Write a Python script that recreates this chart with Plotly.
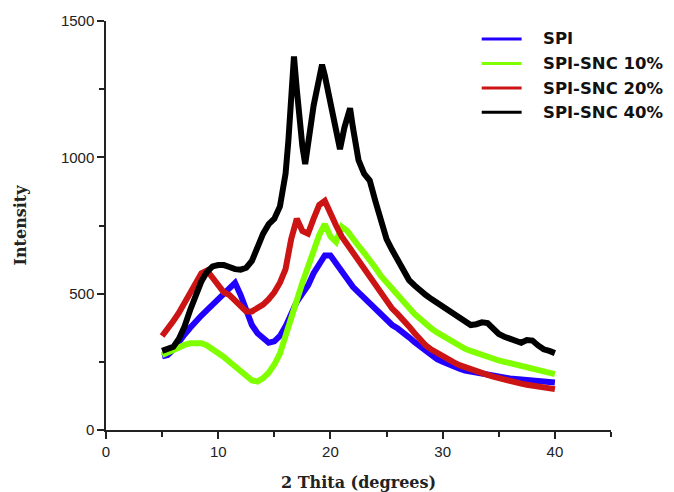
import plotly.graph_objects as go

# 2-theta grid (degrees) for SPI, SPI-SNC 10%, SPI-SNC 20%
two_theta = [5.0 + 0.5 * i for i in range(71)]

spi = [270, 275, 295, 325, 350, 375, 400, 420, 440, 460,
       478, 500, 522, 540, 495, 435, 385, 355, 335, 320,
       325, 345, 380, 430, 470, 500, 530, 575, 610, 640,
       640, 612, 580, 550, 525, 505, 485, 465, 440, 420,
       400, 385, 372, 358, 340, 322, 305, 288, 273, 260,
       250, 240, 232, 225, 218, 214, 208, 204, 200, 196,
       193, 191, 189, 187, 185, 183, 181, 179, 177, 175,
       174]

snc10 = [275, 285, 295, 305, 312, 318, 320, 318, 310, 298,
         283, 268, 250, 232, 212, 195, 182, 178, 190, 210,
         240, 280, 340, 405, 475, 540, 600, 660, 715, 755,
         710, 690, 745, 730, 700, 675, 650, 625, 595, 565,
         540, 515, 492, 470, 448, 425, 405, 388, 372, 358,
         345, 333, 320, 308, 298, 290, 282, 274, 267, 260,
         255, 250, 245, 240, 236, 232, 227, 222, 216, 210,
         205]

snc20 = [345, 370, 400, 430, 465, 500, 540, 575, 585, 560,
         530, 505, 495, 475, 450, 435, 435, 445, 460, 480,
         505, 540, 590, 700, 775, 730, 720, 775, 825, 840,
         790, 750, 710, 680, 650, 625, 595, 560, 530, 500,
         470, 445, 425, 405, 380, 355, 330, 310, 295, 282,
         270, 258, 248, 238, 230, 222, 215, 208, 202, 196,
         190, 185, 180, 175, 170, 166, 163, 160, 157, 154,
         150]

two_theta_40 = [5.0, 5.5, 6.0, 6.5, 7.0, 7.5, 8.0, 8.5, 9.0, 9.5,
                10.0, 10.5, 11.0, 11.5, 12.0, 12.5, 13.0, 13.5, 14.0, 14.5,
                15.0, 15.5, 16.0, 16.25, 16.5, 16.75, 17.0, 17.25, 17.5, 17.75,
                18.0, 18.5, 19.0, 19.25, 19.5, 20.0, 20.5, 20.85, 21.25, 21.75,
                22.0, 22.5, 23.0, 23.5, 24.0, 24.5, 25.0, 25.5, 26.0, 26.5,
                27.0, 27.5, 28.0, 28.5, 29.0, 29.5, 30.0, 30.5, 31.0, 31.5,
                32.0, 32.5, 33.0, 33.5, 34.0, 34.5, 35.0, 35.5, 36.0, 36.5,
                37.0, 37.5, 38.0, 38.5, 39.0, 39.5, 40.0]

snc40 = [290, 295, 305, 335, 380, 440, 495, 545, 580, 600,
         605, 605, 598, 590, 588, 595, 620, 670, 720, 755,
         775, 820, 940, 1060, 1220, 1370, 1250, 1120, 1040, 975,
         1060, 1190, 1290, 1340, 1300, 1200, 1100, 1030, 1110, 1180,
         1110, 990, 940, 915, 840, 760, 700, 660, 625, 580,
         550, 530, 510, 495, 480, 467, 455, 442, 430, 415,
         398, 385, 388, 395, 392, 370, 352, 342, 335, 325,
         320, 330, 328, 310, 296, 290, 282]

series_names = ["SPI", "SPI-SNC 10%", "SPI-SNC 20%", "SPI-SNC 40%"]
series_colors = ["#2200ff", "#80ff00", "#cc1414", "#000000"]

fig = go.Figure()
data = [(two_theta, spi), (two_theta, snc10), (two_theta, snc20), (two_theta_40, snc40)]
for (xs, ys), name, col in zip(data, series_names, series_colors):
    fig.add_trace(go.Scatter(x=xs, y=ys, mode="lines", name=name, showlegend=False,
                             line=dict(color=col, width=6)))

# custom legend (swatch lines + labels) in the upper right of the plot area
leg_rows = [0.956, 0.896, 0.836, 0.777]
for name, col, yy in zip(series_names, series_colors, leg_rows):
    fig.add_shape(type="line", xref="paper", yref="paper",
                  x0=0.744, x1=0.823, y0=yy, y1=yy,
                  line=dict(color=col, width=3))
    fig.add_annotation(xref="paper", yref="paper", x=0.862, y=yy,
                       xanchor="left", yanchor="middle", showarrow=False,
                       text=name,
                       font=dict(family="DejaVu Sans, sans-serif", size=16.5,
                                 color="#111", weight="bold"))

tickfont = dict(family="Liberation Sans, Arial, sans-serif", size=15, color="#222")
titlefont = dict(family="DejaVu Serif, serif", size=16, color="#222", weight="bold")

# the page adds an 8px body margin, so the figure is 8px smaller than the window
fig.update_layout(
    width=666, height=484,
    margin=dict(l=98, r=63, t=13, b=62),
    paper_bgcolor="white", plot_bgcolor="white",
    showlegend=False,
    xaxis=dict(range=[0, 45], tickvals=[0, 10, 20, 30, 40], automargin=False,
               ticks="outside", ticklen=7, tickwidth=1.5, tickcolor="#222",
               minor=dict(tickvals=[5, 15, 25, 35, 45], ticks="outside", ticklen=5,
                          tickwidth=1.5, tickcolor="#222"),
               showline=True, linecolor="#222", linewidth=1.5,
               showgrid=False, zeroline=False, tickfont=tickfont,
               title=dict(text="2 Thita (degrees)", font=titlefont, standoff=19)),
    yaxis=dict(range=[0, 1500], tickvals=[0, 500, 1000, 1500], automargin=False,
               ticks="outside", ticklen=7, tickwidth=1.5, tickcolor="#222",
               minor=dict(tickvals=[250, 750, 1250], ticks="outside", ticklen=5,
                          tickwidth=1.5, tickcolor="#222"),
               showline=True, linecolor="#222", linewidth=1.5,
               showgrid=False, zeroline=False, tickfont=tickfont,
               title=dict(text="Intensity", font=titlefont, standoff=30)),
)

fig.write_html("out.html")
